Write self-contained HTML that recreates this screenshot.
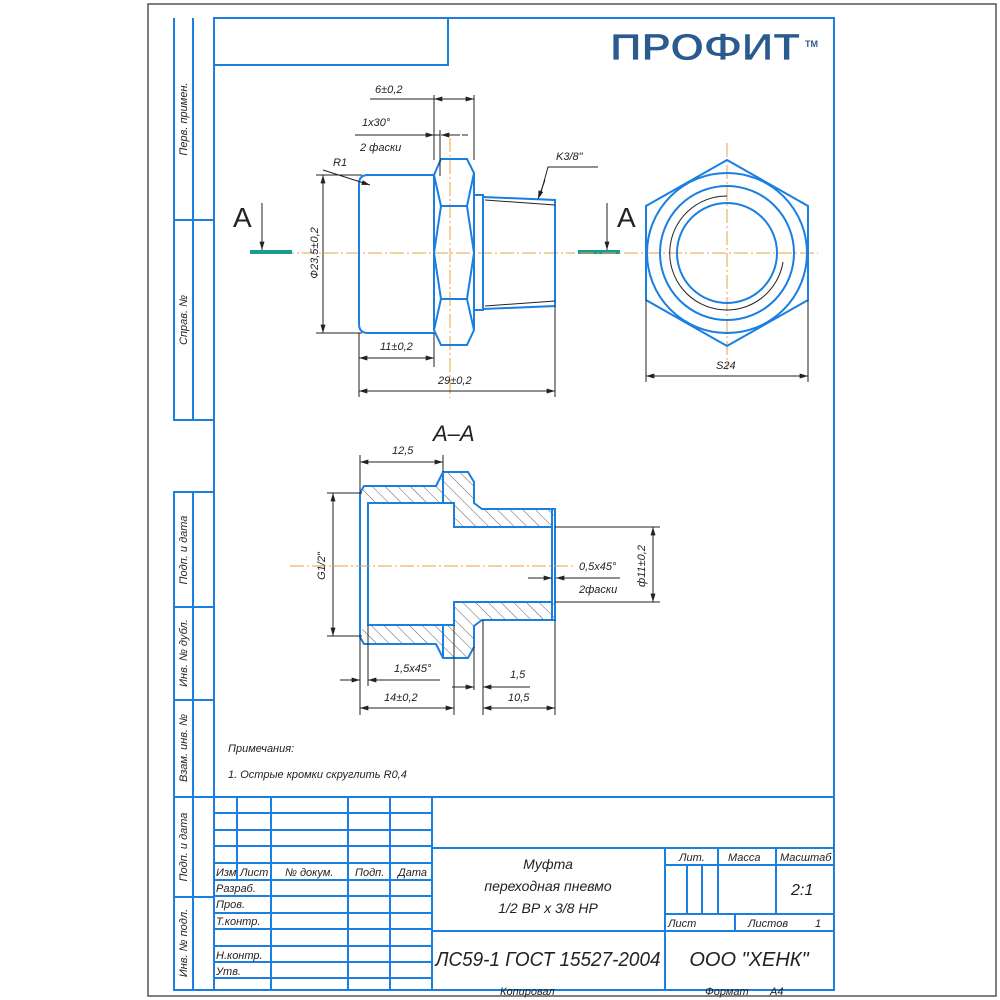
<!DOCTYPE html>
<html><head><meta charset="utf-8"><style>
html,body{margin:0;padding:0;background:#fff}
svg{display:block}
text{font-family:"Liberation Sans","DejaVu Sans",sans-serif;font-style:italic;fill:#222}
.b{stroke:#1a7fe0;fill:none;stroke-width:2}
.k{stroke:#222;fill:none;stroke-width:1}
.c{stroke:#e8a040;fill:none;stroke-width:1;stroke-dasharray:14 3 2 3}
.t{font-size:11px}
</style></head><body>
<svg width="1000" height="1000" viewBox="0 0 1000 1000" xmlns="http://www.w3.org/2000/svg">
<defs>
<marker id="a" viewBox="0 0 10 6" refX="10" refY="3" markerWidth="10" markerHeight="5" orient="auto-start-reverse" markerUnits="userSpaceOnUse"><path d="M0,0L10,3L0,6z" fill="#222"/></marker>
<pattern id="h" width="9" height="9" patternUnits="userSpaceOnUse" patternTransform="rotate(-45)"><line x1="0" y1="0" x2="0" y2="9" stroke="#333" stroke-width="0.8"/></pattern>
</defs>
<!-- outer sheet -->
<rect x="148" y="4" width="848" height="992" fill="none" stroke="#555" stroke-width="1.5"/>
<!-- main frame -->
<rect x="214" y="18" width="620" height="972" class="b"/>
<!-- left strips -->
<path class="b" d="M174,18V420H214M193,18V420M174,220H214"/>
<path class="b" d="M174,492H214V990H174ZM193,492V990M174,607H214M174,700H214M174,797H214M174,897H214"/>
<g class="t">
<text transform="translate(187,119) rotate(-90)" text-anchor="middle">Перв. примен.</text>
<text transform="translate(187,320) rotate(-90)" text-anchor="middle">Справ. №</text>
<text transform="translate(187,550) rotate(-90)" text-anchor="middle">Подп. и дата</text>
<text transform="translate(187,653) rotate(-90)" text-anchor="middle">Инв. № дубл.</text>
<text transform="translate(187,748) rotate(-90)" text-anchor="middle">Взам. инв. №</text>
<text transform="translate(187,847) rotate(-90)" text-anchor="middle">Подп. и дата</text>
<text transform="translate(187,943) rotate(-90)" text-anchor="middle">Инв. № подл.</text>
</g>
<!-- top-left box -->
<path class="b" d="M214,65H448V18"/>
<!-- logo -->
<text x="610" y="60" font-size="38" font-weight="bold" font-style="normal" textLength="190" lengthAdjust="spacingAndGlyphs" style="fill:#2b5a8f;stroke:#fff;stroke-width:0.8;font-style:normal">ПРОФИТ</text>
<text x="805" y="47" font-size="9" font-weight="bold" style="fill:#2b5a8f;font-style:normal">TM</text>

<!-- ===== Top view ===== -->
<line class="c" x1="280" y1="253" x2="575" y2="253"/>
<line class="c" x1="450" y1="138" x2="450" y2="398"/>
<path d="M250,252H292M578,252H620" stroke="#1a9a90" stroke-width="4"/>
<text x="233" y="227" font-size="28" style="font-style:normal">A</text>
<text x="617" y="227" font-size="28" style="font-style:normal">A</text>
<line class="k" x1="262" y1="203" x2="262" y2="250" marker-end="url(#a)"/>
<line class="k" x1="607" y1="203" x2="607" y2="250" marker-end="url(#a)"/>
<!-- body -->
<path class="b" d="M434,175H368Q359,175 359,184V324Q359,333 368,333H434"/>
<path class="b" d="M441,159H467L474,173V330L467,345H441L434,330V175Z"/>
<path class="b" stroke-width="1.5" d="M441,206H467M441,299H467M434,175L441,206L434,253L441,299L434,330M474,173L467,206L474,253L467,299L474,330"/>
<rect class="b" x="474" y="195" width="9" height="115"/>
<path class="b" d="M483,197L555,200V306L483,309Z"/>
<path class="k" stroke="#555" d="M485,200L555,205M485,306L555,301"/>
<!-- dims top view -->
<path class="k" d="M434,95V160M474,95V160M370,99H434M440,130V176M355,135H440M462,135H468"/>
<line class="k" x1="434" y1="99" x2="474" y2="99" marker-start="url(#a)" marker-end="url(#a)"/>
<line class="k" x1="415" y1="135" x2="434" y2="135" marker-end="url(#a)"/>
<line class="k" x1="460" y1="135" x2="441" y2="135" marker-end="url(#a)"/>
<text class="t" x="375" y="93">6±0,2</text>
<text class="t" x="362" y="126">1x30°</text>
<text class="t" x="360" y="151">2 фаски</text>
<line class="k" x1="323" y1="170" x2="370" y2="185" marker-end="url(#a)"/>
<text class="t" x="333" y="166">R1</text>
<path class="k" d="M598,167H548L540,196"/>
<line class="k" x1="545" y1="180" x2="538" y2="199" marker-end="url(#a)"/>
<text class="t" x="556" y="160">K3/8"</text>
<path class="k" d="M316,175H362M316,333H362"/>
<line class="k" x1="323" y1="175" x2="323" y2="333" marker-start="url(#a)" marker-end="url(#a)"/>
<text class="t" transform="translate(318,253) rotate(-90)" text-anchor="middle">Ф23,5±0,2</text>
<path class="k" d="M359,333V397M434,333V367M555,306V397"/>
<line class="k" x1="359" y1="358" x2="434" y2="358" marker-start="url(#a)" marker-end="url(#a)"/>
<text class="t" x="380" y="350">11±0,2</text>
<line class="k" x1="359" y1="391" x2="555" y2="391" marker-start="url(#a)" marker-end="url(#a)"/>
<text class="t" x="438" y="384">29±0,2</text>

<!-- ===== End view ===== -->
<line class="c" x1="580" y1="253" x2="818" y2="253"/>
<line class="c" x1="727" y1="143" x2="727" y2="370"/>
<path class="b" d="M727,160L808,206V300L727,346L646,300V206Z"/>
<circle class="b" cx="727" cy="253" r="80"/>
<circle class="b" cx="727" cy="253" r="67"/>
<circle class="b" cx="727" cy="253" r="50"/>
<path class="k" d="M727,196A57,57 0 1 0 783,262"/>
<path class="k" d="M646,300V382M808,300V382"/>
<line class="k" x1="646" y1="376" x2="808" y2="376" marker-start="url(#a)" marker-end="url(#a)"/>
<text class="t" x="716" y="369">S24</text>

<!-- ===== Section A-A ===== -->
<text x="433" y="441" font-size="22">A–A</text>
<path d="M360,493L364,486H436L443,472H468L474,482V503L482,509H555V620H482L474,626V647L468,658H443L436,644H364L360,637Z" fill="url(#h)"/>
<path d="M360,499L368,503H454V527H555V602H454V625H368L360,631Z" fill="#fff"/>
<path class="b" d="M360,493L364,486H436L443,472H468L474,482V503L482,509H555V620H482L474,626V647L468,658H443L436,644H364L360,637Z"/>
<path class="b" d="M368,503H454V527H552V602H454V625H368ZM360,493V637M552,509V620"/>
<path class="b" stroke-width="1.2" d="M443,472V503M443,625V658"/>
<line class="c" x1="290" y1="566" x2="575" y2="566"/>
<!-- section dims -->
<path class="k" d="M360,455V493M443,455V472"/>
<line class="k" x1="360" y1="462" x2="443" y2="462" marker-start="url(#a)" marker-end="url(#a)"/>
<text class="t" x="392" y="454">12,5</text>
<path class="k" d="M327,493H362M327,636H362"/>
<line class="k" x1="333" y1="493" x2="333" y2="636" marker-start="url(#a)" marker-end="url(#a)"/>
<text class="t" transform="translate(325,566) rotate(-90)" text-anchor="middle">G1/2"</text>
<path class="k" d="M555,527H660M555,602H660"/>
<line class="k" x1="653" y1="527" x2="653" y2="602" marker-start="url(#a)" marker-end="url(#a)"/>
<text class="t" transform="translate(645,566) rotate(-90)" text-anchor="middle">ф11±0,2</text>
<path class="k" d="M528,578H548M562,578H620"/>
<line class="k" x1="530" y1="578" x2="552" y2="578" marker-end="url(#a)"/>
<line class="k" x1="578" y1="578" x2="556" y2="578" marker-end="url(#a)"/>
<text class="t" x="579" y="570">0,5x45°</text>
<text class="t" x="579" y="593">2фаски</text>
<path class="k" d="M360,637V715M368,625V686M454,625V715M474,647V690M483,620V715M555,620V715"/>
<line class="k" x1="340" y1="680" x2="360" y2="680" marker-end="url(#a)"/>
<line class="k" x1="440" y1="680" x2="368" y2="680" marker-end="url(#a)"/>
<text class="t" x="394" y="672">1,5x45°</text>
<line class="k" x1="360" y1="708" x2="454" y2="708" marker-start="url(#a)" marker-end="url(#a)"/>
<text class="t" x="384" y="701">14±0,2</text>
<line class="k" x1="452" y1="687" x2="474" y2="687" marker-end="url(#a)"/>
<line class="k" x1="530" y1="687" x2="483" y2="687" marker-end="url(#a)"/>
<text class="t" x="510" y="678">1,5</text>
<line class="k" x1="483" y1="708" x2="555" y2="708" marker-start="url(#a)" marker-end="url(#a)"/>
<text class="t" x="508" y="701">10,5</text>

<!-- notes -->
<text class="t" x="228" y="752">Примечания:</text>
<text class="t" x="228" y="778">1. Острые кромки скруглить R0,4</text>

<!-- ===== Title block ===== -->
<path class="b" d="M214,797H834M432,797V990M432,848H834M432,931H834"/>
<path class="b" stroke-width="1.5" d="M214,813H432M214,830H432M214,846H432M214,863H432M214,880H432M214,896H432M214,913H432M214,929H432M214,946H432M214,962H432M214,978H432"/>
<path class="b" d="M237,797V880M271,797V990M348,797V990M390,797V990"/>
<path class="b" d="M665,848V990M665,865H834M718,848V914M776,848V914M665,914H834M735,914V931M687,865V914M702,865V914"/>
<g class="t">
<text x="216" y="876">Изм</text><text x="240" y="876">Лист</text><text x="285" y="876">№ докум.</text><text x="355" y="876">Подп.</text><text x="398" y="876">Дата</text>
<text x="216" y="892">Разраб.</text><text x="216" y="908">Пров.</text><text x="216" y="925">Т.контр.</text><text x="216" y="959">Н.контр.</text><text x="216" y="975">Утв.</text>
<text x="679" y="861">Лит.</text><text x="728" y="861">Масса</text><text x="780" y="861">Масштаб</text>
<text x="668" y="927">Лист</text><text x="748" y="927">Листов</text><text x="815" y="927">1</text>
<text x="500" y="995">Копировал</text><text x="705" y="995">Формат</text><text x="770" y="995">A4</text>
</g>
<text x="791" y="895" font-size="16">2:1</text>
<text x="548" y="869" font-size="14" text-anchor="middle">Муфта</text>
<text x="548" y="891" font-size="14" text-anchor="middle">переходная пневмо</text>
<text x="548" y="913" font-size="14" text-anchor="middle">1/2 ВР х 3/8 НР</text>
<text x="548" y="966" font-size="20" text-anchor="middle" textLength="225" lengthAdjust="spacingAndGlyphs">ЛС59-1 ГОСТ 15527-2004</text>
<text x="749" y="966" font-size="20" text-anchor="middle">ООО "ХЕНК"</text>
</svg>
</body></html>
